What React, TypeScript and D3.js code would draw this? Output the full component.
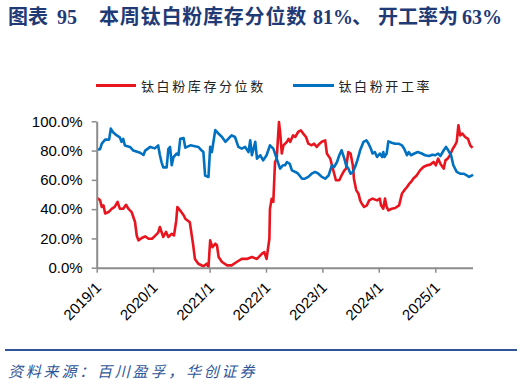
import React, { useEffect, useRef } from 'react'
import * as d3 from 'd3'

// 钛白粉库存分位数 (%), [decimal year, value]
const inventory: [number, number][] = [
  [2019.01, 47.6], [2019.06, 46], [2019.09, 41.5], [2019.12, 42.6], [2019.15, 37], [2019.21, 38],
  [2019.27, 40.3], [2019.32, 41.5], [2019.37, 45], [2019.41, 40.3], [2019.47, 40.3], [2019.52, 43],
  [2019.56, 40.3], [2019.62, 38], [2019.68, 31.2], [2019.71, 22], [2019.74, 18.7], [2019.8, 20.3],
  [2019.86, 21.4], [2019.92, 19.8], [2019.98, 19.8], [2020.03, 21.6], [2020.09, 24], [2020.12, 27.8],
  [2020.15, 24.4], [2020.18, 21], [2020.23, 24.4], [2020.27, 21], [2020.33, 23.2], [2020.37, 22],
  [2020.41, 32.3], [2020.43, 41.5], [2020.48, 39], [2020.54, 35.8], [2020.57, 33.5], [2020.65, 31],
  [2020.71, 15.3], [2020.74, 6], [2020.8, 2.7], [2020.89, 1], [2020.95, 2.7], [2020.98, 0.5],
  [2021.01, 18.7], [2021.05, 14], [2021.1, 16.4], [2021.13, 15.3], [2021.16, 7.3], [2021.22, 3.9],
  [2021.31, 1.6], [2021.39, 1.6], [2021.48, 3.9], [2021.57, 6], [2021.66, 6], [2021.75, 7.3],
  [2021.84, 6], [2021.93, 9.6], [2021.97, 10.7], [2022.01, 6], [2022.06, 19.8], [2022.07, 40],
  [2022.1, 47], [2022.13, 45], [2022.16, 72], [2022.19, 74.5], [2022.23, 99.5], [2022.25, 93],
  [2022.28, 78], [2022.31, 83.6], [2022.37, 86], [2022.4, 88], [2022.43, 86], [2022.48, 90.4],
  [2022.52, 89.3], [2022.57, 92.7], [2022.62, 93.8], [2022.66, 91.6], [2022.71, 89.3], [2022.75, 84.7],
  [2022.81, 83.6], [2022.85, 84.7], [2022.9, 82.5], [2022.95, 84.7], [2022.99, 86], [2023.05, 87],
  [2023.08, 78], [2023.14, 74.5], [2023.17, 70], [2023.21, 64.2], [2023.24, 59.7], [2023.3, 59.7],
  [2023.34, 63], [2023.39, 66.5], [2023.42, 67.7], [2023.46, 79], [2023.5, 78], [2023.54, 70],
  [2023.56, 60.8], [2023.6, 53], [2023.64, 50.6], [2023.67, 46], [2023.7, 43.7], [2023.74, 41.5],
  [2023.79, 42.6], [2023.83, 46], [2023.89, 47.2], [2023.97, 46], [2024.02, 47.2], [2024.04, 42.6],
  [2024.08, 40.3], [2024.11, 47.2], [2024.14, 41.5], [2024.17, 39.2], [2024.23, 40.3], [2024.29, 40.8],
  [2024.36, 42.6], [2024.41, 50.6], [2024.45, 52.8], [2024.5, 55.1], [2024.54, 57.4], [2024.57, 58.5],
  [2024.61, 60.8], [2024.67, 63], [2024.73, 66.5], [2024.79, 68.8], [2024.85, 69.9], [2024.91, 70.4],
  [2024.97, 72.2], [2025.01, 69.9], [2025.05, 74.5], [2025.09, 71], [2025.13, 68.8], [2025.15, 67.7],
  [2025.18, 73.3], [2025.22, 74.5], [2025.26, 76.8], [2025.31, 81.3], [2025.35, 83.6], [2025.38, 86],
  [2025.41, 97.3], [2025.44, 90.4], [2025.48, 91.6], [2025.53, 89.3], [2025.58, 88], [2025.62, 83.6],
  [2025.66, 81.8],
]

// 钛白粉开工率 (%)
const runRate: [number, number][] = [
  [2019.01, 80.6], [2019.06, 81], [2019.09, 84.7], [2019.15, 87.5], [2019.22, 87.5], [2019.25, 95],
  [2019.29, 92.5], [2019.35, 90.5], [2019.41, 89], [2019.44, 86], [2019.47, 88], [2019.5, 83.5],
  [2019.59, 82.5], [2019.65, 80], [2019.77, 78.5], [2019.83, 77], [2019.86, 80], [2019.95, 82.5],
  [2020.03, 81.5], [2020.09, 83.5], [2020.12, 77], [2020.15, 72], [2020.18, 68.5], [2020.24, 68.5],
  [2020.27, 81], [2020.3, 82.5], [2020.33, 70], [2020.36, 75.5], [2020.42, 78], [2020.45, 77],
  [2020.48, 88], [2020.54, 88.5], [2020.57, 82], [2020.66, 83.6], [2020.8, 82.5], [2020.86, 80],
  [2020.89, 79], [2020.92, 63], [2020.98, 62], [2021.01, 82.5], [2021.04, 79], [2021.1, 94],
  [2021.16, 91.5], [2021.22, 89.3], [2021.28, 86], [2021.33, 88], [2021.39, 90.4], [2021.45, 89.3],
  [2021.51, 82.5], [2021.57, 81.3], [2021.63, 82.5], [2021.69, 79], [2021.72, 87], [2021.75, 76.8],
  [2021.81, 86], [2021.84, 74.5], [2021.9, 76.8], [2021.95, 73.3], [2022.01, 76.8], [2022.07, 83.6],
  [2022.13, 81.3], [2022.19, 74.5], [2022.25, 67.7], [2022.3, 70], [2022.34, 70], [2022.37, 72.2],
  [2022.42, 71], [2022.46, 66.5], [2022.52, 65.4], [2022.57, 64.2], [2022.64, 60.8], [2022.69, 60.8],
  [2022.75, 62], [2022.81, 64.2], [2022.87, 65.4], [2022.93, 64.2], [2022.99, 62], [2023.05, 60.8],
  [2023.11, 63], [2023.17, 70], [2023.21, 68.8], [2023.26, 72.2], [2023.3, 76.8], [2023.34, 80.2],
  [2023.39, 74.5], [2023.42, 70], [2023.46, 67.7], [2023.5, 64.2], [2023.54, 65.4], [2023.58, 68.8],
  [2023.62, 73.3], [2023.67, 80.2], [2023.73, 86], [2023.78, 87], [2023.82, 84.7], [2023.86, 81.3],
  [2023.89, 78], [2023.93, 79], [2023.97, 75.6], [2024.02, 78], [2024.06, 75.6], [2024.08, 79],
  [2024.1, 75.6], [2024.14, 78], [2024.17, 86.3], [2024.23, 85.4], [2024.29, 84.7], [2024.35, 84.7],
  [2024.41, 83.6], [2024.45, 81.3], [2024.5, 76.8], [2024.53, 79], [2024.57, 76.8], [2024.63, 78],
  [2024.69, 79], [2024.76, 78], [2024.82, 76.8], [2024.89, 76.3], [2024.95, 77.2], [2025.0, 76.8],
  [2025.05, 78], [2025.09, 76.3], [2025.15, 80.2], [2025.19, 82.5], [2025.23, 80.2], [2025.28, 76.8],
  [2025.32, 70], [2025.38, 65.4], [2025.44, 64.2], [2025.5, 64.2], [2025.56, 63], [2025.6, 62],
  [2025.65, 63], [2025.67, 63.5],
]

const xTickLabels = ['2019/1', '2020/1', '2021/1', '2022/1', '2023/1', '2024/1', '2025/1']
const yTicks = [0, 20, 40, 60, 80, 100]
const seriesNames = ['钛白粉库存分位数', '钛白粉开工率']
const colors = ['#e8141e', '#0070c0']

function fromYear(y: number) {
  const yr = Math.floor(y)
  const start = new Date(yr, 0, 1).getTime()
  const end = new Date(yr + 1, 0, 1).getTime()
  return new Date(start + (y - yr) * (end - start))
}

const App = () => {
  const xAxisRef = useRef<SVGGElement>(null)
  const yAxisRef = useRef<SVGGElement>(null)

  const left = 96.7, right = 472.5, top = 121.3, bottom = 267.7
  const x = d3.scaleTime().domain([fromYear(2019), fromYear(2025.66)]).range([left, right])
  const y = d3.scaleLinear().domain([0, 100]).range([bottom, top])
  const line = d3.line<[number, number]>()
    .x(d => x(fromYear(d[0])))
    .y(d => y(d[1]))

  useEffect(() => {
    const tickDates = xTickLabels.map(s => {
      const [yy, mm] = s.split('/').map(Number)
      return new Date(yy, mm - 1, 1)
    })
    const xa = d3.select(xAxisRef.current!)
    xa.call(d3.axisBottom(x).tickValues(tickDates).tickSize(5).tickSizeOuter(0)
      .tickFormat((d, i) => xTickLabels[i]) as any)
    xa.select('.domain').attr('stroke', '#8c8c8c').attr('stroke-width', 2)
    xa.selectAll('.tick line').attr('stroke', '#8c8c8c').attr('stroke-width', 1.5)
    xa.selectAll('.tick text')
      .attr('x', 0).attr('y', 0).attr('dy', 0)
      .attr('transform', 'translate(5,21) rotate(-45)')
      .attr('text-anchor', 'end')
      .attr('fill', '#000')
      .style('font-size', '15px')
      .style('font-family', '"Liberation Sans", Arial, sans-serif')

    const ya = d3.select(yAxisRef.current!)
    ya.call(d3.axisLeft(y).tickValues(yTicks).tickSize(5).tickSizeOuter(0).tickPadding(9)
      .tickFormat(d => (d as number).toFixed(1) + '%') as any)
    ya.select('.domain').attr('stroke', '#8c8c8c').attr('stroke-width', 2)
    ya.selectAll('.tick line').attr('stroke', '#8c8c8c').attr('stroke-width', 1.5)
    ya.selectAll('.tick text')
      .attr('fill', '#000')
      .style('font-size', '15px')
      .style('font-family', '"Liberation Sans", Arial, sans-serif')
  }, [])

  const cjk = '"Noto Sans CJK SC", sans-serif'
  const titleFont = '"Liberation Serif", "Noto Sans CJK SC", serif'

  return (
    <div style={{ position: 'fixed', left: 0, top: 0 }}>
      <svg width={524} height={385} style={{ display: 'block', background: '#fff' }}>
        <text y={24} fill="#1f3a75" fontWeight="bold" fontSize={20} fontFamily={titleFont}>
          <tspan x={8}>图表</tspan>
          <tspan x={57}>95</tspan>
          <tspan x={99} letterSpacing={0.8}>本周钛白粉库存分位数</tspan>
          <tspan x={313}>81%</tspan>
          <tspan x={352}>、</tspan>
          <tspan x={378}>开工率为</tspan>
          <tspan x={462}>63%</tspan>
        </text>

        {/* legend */}
        <line x1={96} x2={136} y1={85.5} y2={85.5} stroke={colors[0]} strokeWidth={3} />
        <text x={141} y={90.5} fontSize={13} letterSpacing={2.6} fontFamily={cjk} fill="#222">{seriesNames[0]}</text>
        <line x1={293} x2={334} y1={85.5} y2={85.5} stroke={colors[1]} strokeWidth={3} />
        <text x={338.5} y={90.5} fontSize={13} letterSpacing={2.6} fontFamily={cjk} fill="#222">{seriesNames[1]}</text>

        <path d={line(inventory) || ''} fill="none" stroke={colors[0]} strokeWidth={2.6} strokeLinejoin="round" />
        <path d={line(runRate) || ''} fill="none" stroke={colors[1]} strokeWidth={2.6} strokeLinejoin="round" />

        <g ref={xAxisRef} transform={`translate(0,${bottom})`} />
        <g ref={yAxisRef} transform={`translate(${left},0)`} />

        <line x1={5} x2={517} y1={350} y2={350} stroke="#2f5597" strokeWidth={2} />
        <text x={8} y={377} fontSize={15} fontStyle="italic" letterSpacing={2.8} fontFamily={cjk} fill="#2f5597">
          资料来源：百川盈孚，华创证券
        </text>
      </svg>
    </div>
  )
}

export default App
